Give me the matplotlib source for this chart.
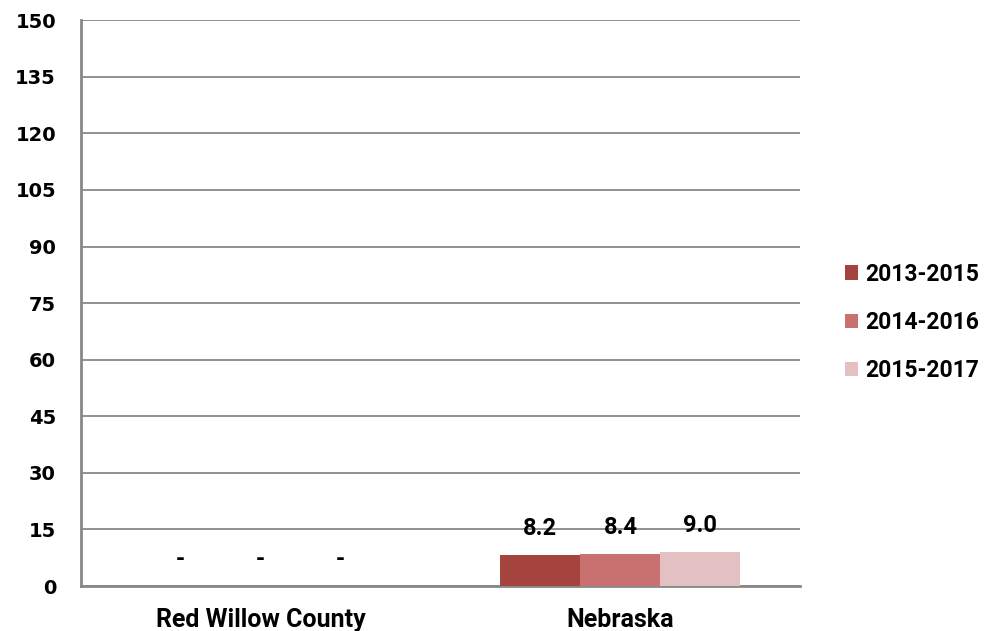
import matplotlib
matplotlib.use("Agg")
import matplotlib.pyplot as plt
from matplotlib.patches import Patch
import numpy as np

categories = ["Red Willow County", "Nebraska"]
series_names = ["2013-2015", "2014-2016", "2015-2017"]
values = {
    "2013-2015": [None, 8.2],
    "2014-2016": [None, 8.4],
    "2015-2017": [None, 9.0],
}
colors = ["#A5443F", "#C87170", "#E3C1C3"]
yticks = [0, 15, 30, 45, 60, 75, 90, 105, 120, 135, 150]

FAM = "Roboto"

fig = plt.figure(figsize=(9.94, 6.31), dpi=100)
ax = fig.add_axes([0.0815, 0.0713, 0.7235, 0.8967])

x = np.arange(len(categories))
w = 0.2225
for i, name in enumerate(series_names):
    vals = values[name]
    pos = x + (i - 1) * w
    hv = [v if v is not None else 0 for v in vals]
    ax.bar(pos, hv, width=w, color=colors[i], zorder=3, linewidth=0)
    for p, v in zip(pos, vals):
        label = "-" if v is None else f"{v:.1f}"
        yv = 0 if v is None else v
        ax.annotate(label, (p, yv), xytext=(0, 11), textcoords="offset points",
                    ha="center", va="bottom", fontsize=17, fontweight="bold",
                    family=FAM, color="black")

ax.set_xlim(-0.5, 1.5)
ax.set_ylim(0, 150)
ax.set_yticks(yticks)
ax.set_yticklabels([str(t) for t in yticks], fontsize=14, fontweight="bold",
                   family="DejaVu Sans")
ax.set_xticks(x)
ax.set_xticklabels(categories, fontsize=18, fontweight="bold", family=FAM)
ax.tick_params(axis="y", length=0, pad=18)
ax.tick_params(axis="x", length=0, pad=16)
ax.grid(axis="y", color="#888888", linewidth=1.3, zorder=0)
for s in ["top", "right"]:
    ax.spines[s].set_visible(False)
ax.spines["left"].set_color("#888888")
ax.spines["left"].set_linewidth(2)
ax.spines["bottom"].set_color("#888888")
ax.spines["bottom"].set_linewidth(2)

handles = [Patch(facecolor=c, edgecolor="none") for c in colors]
leg = fig.legend(handles, series_names, loc="center left",
                 bbox_to_anchor=(0.829, 0.489), frameon=False,
                 prop={"family": FAM, "weight": "bold", "size": 16.5},
                 handlelength=0.6, handleheight=0.6, handletextpad=0.3,
                 labelspacing=1.1)

fig.savefig("out.png", dpi=100)
